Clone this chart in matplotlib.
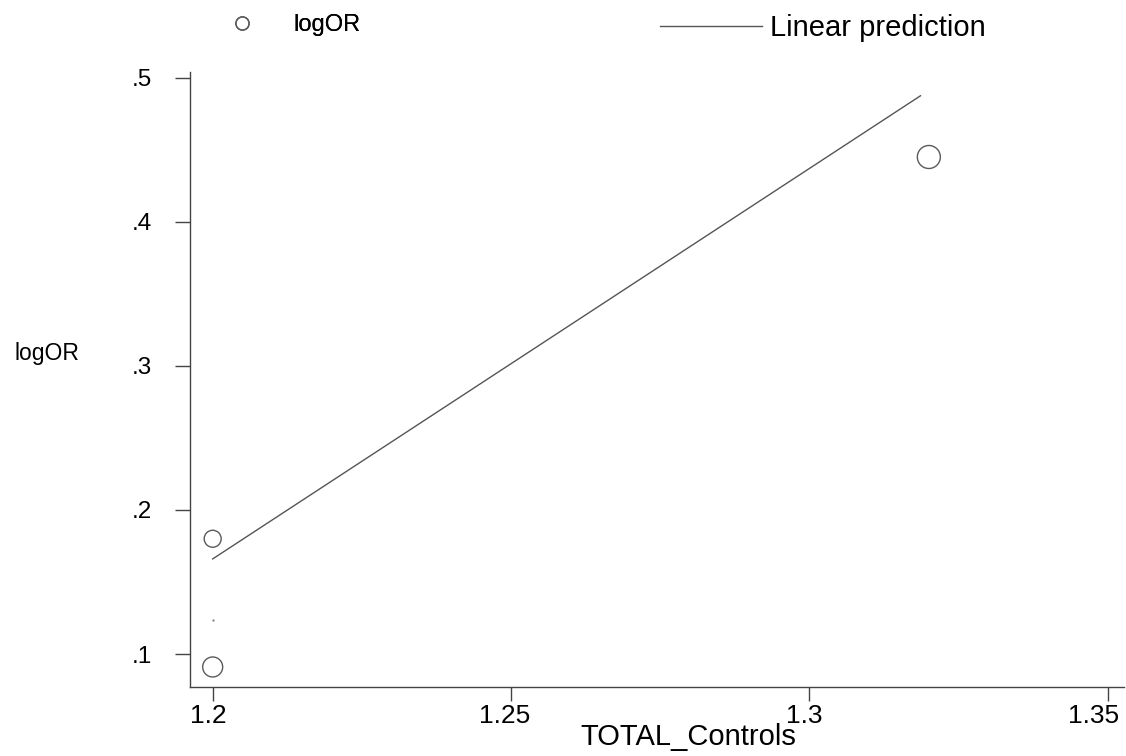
#!/usr/bin/env python3
# coding: utf-8

import matplotlib
matplotlib.use("Agg")
import matplotlib.pyplot as plt
import matplotlib.transforms as mtransforms
from matplotlib.lines import Line2D

plt.rcParams['font.family'] = ['Liberation Sans', 'DejaVu Sans']

# data
total_controls = [1.2, 1.2, 1.32]
log_or = [0.18, 0.091, 0.445]
marker_px = [17, 20, 23]  # weighted circle diameters

# linear prediction (fitted line end points)
fit_x = [1.2, 1.3186]
fit_y = [0.166, 0.4875]

# stray tiny mark in the original
stray_x = [1.2]
stray_y = [0.1236]

xticks = [1.2, 1.25, 1.3, 1.35]
xtick_labels = ["1.2", "1.25", "1.3", "1.35"]
yticks = [0.1, 0.2, 0.3, 0.4, 0.5]
ytick_labels = [".1", ".2", ".3", ".4", ".5"]

W, H = 1126, 756
fig = plt.figure(figsize=(W / 100, H / 100), dpi=100)
ax = fig.add_axes([190 / W, 1 - 687 / H, (1124 - 190) / W, (687 - 72) / H])

sizes = [(d * 0.72) ** 2 for d in marker_px]
ax.scatter(total_controls, log_or, s=sizes, facecolors='none',
           edgecolors='#5a5a5a', linewidths=1.0, zorder=3)
ax.plot(fit_x, fit_y, color='#555555', lw=1.0)
ax.plot(stray_x, stray_y, ls='none', marker='.', ms=1.2, color='#777777')

ax.set_xlim(1.1962, 1.3527)
ax.set_ylim(0.0771, 0.504)

ax.set_xticks(xticks)
ax.set_xticklabels(xtick_labels, fontsize=19)
ax.set_yticks(yticks)
ax.set_yticklabels(ytick_labels, fontsize=17.5)
ax.tick_params(axis='x', length=10, width=1, color='#444444', pad=2)
ax.tick_params(axis='y', length=11, width=1, color='#444444', pad=16)

# the last x label sits pulled in from the right edge
xlabs = ax.get_xticklabels()
shifts = [-4, -6, -5, -14]
for lab, dx in zip(xlabs, shifts):
    lab.set_transform(lab.get_transform() +
                      mtransforms.ScaledTranslation(dx / 100, 0, fig.dpi_scale_trans))

for side in ['top', 'right']:
    ax.spines[side].set_visible(False)
for side in ['left', 'bottom']:
    ax.spines[side].set_color('#444444')
    ax.spines[side].set_linewidth(1.0)

ax.set_xlabel("TOTAL_Controls", fontsize=21)
ax.xaxis.set_label_coords(0.533, -0.058)
fig.text(47 / W, 1 - 353 / H, "logOR", fontsize=16.5, ha='center', va='center')

# legend entries, split so each can keep its own size
h_pts = Line2D([], [], ls='none', marker='o', ms=9.5, mfc='none',
               mec='#5a5a5a', mew=1.0)
h_fit = Line2D([], [], color='#555555', lw=1.0)

leg1 = fig.legend([h_pts], ["logOR"], loc='center left', frameon=False,
                  fontsize=17, borderpad=0, borderaxespad=0,
                  handlelength=2.0, handletextpad=1.2,
                  bbox_to_anchor=(218 / W, 1 - 25 / H))
fig.add_artist(leg1)
fig.legend([h_fit], ["Linear prediction"], loc='center left', frameon=False,
           fontsize=21, borderpad=0, borderaxespad=0,
           handlelength=3.5, handletextpad=0.28,
           bbox_to_anchor=(660 / W, 1 - 28 / H))

fig.savefig("out.png", dpi=100)
